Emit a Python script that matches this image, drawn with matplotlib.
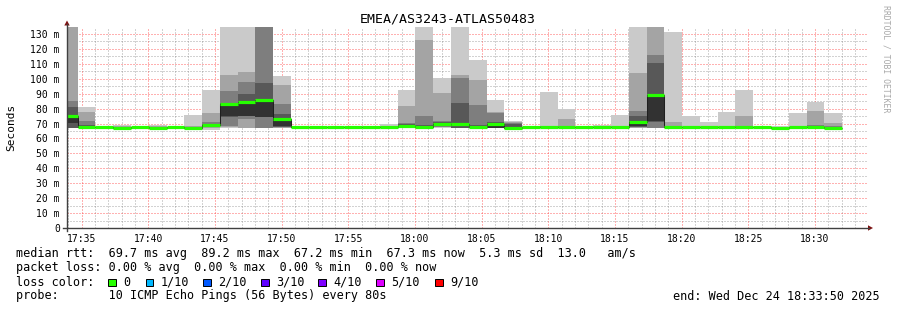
import matplotlib
matplotlib.use("Agg")
import matplotlib.pyplot as plt
import numpy as np
from matplotlib.patches import Rectangle, Polygon
from matplotlib.lines import Line2D

# ---------------- data ----------------
title = "EMEA/AS3243-ATLAS50483"
# time in minutes after 17:00
view_start = 33.9          # 17:33:54
view_end = 93.9            # 18:33:54
first_step = 34.7          # first 80 s step boundary (17:34:42)
step = 80 / 60.0
n_bars = 44
x_major = [35, 40, 45, 50, 55, 60, 65, 70, 75, 80, 85, 90]
x_labels = ["17:35", "17:40", "17:45", "17:50", "17:55", "18:00",
            "18:05", "18:10", "18:15", "18:20", "18:25", "18:30"]
y_major = [0, 10, 20, 30, 40, 50, 60, 70, 80, 90, 100, 110, 120, 130]
y_labels = ["0"] + [f"{v} m" for v in y_major[1:]]
y_max = 134.7

# sorted ping rtts (ms) for each 80 s step, lowest (ping01) to highest (ping10)
ping01 = [67.0, 67.0, 67.0, 66.9, 67.0, 66.9, 67.0, 66.9, 66.0, 66.8, 66.8, 66.8, 67.0, 67.0, 66.9,
          66.9, 66.9, 66.9, 67.0, 67.3, 67.0, 67.3, 66.8, 67.0, 67.0, 67.0, 66.9, 67.0, 67.0, 66.9,
          66.9, 67.0, 67.0, 66.9, 67.0, 67.0, 67.0, 67.0, 67.0, 67.0, 66.9, 66.9, 66.9, 66.9]
ping02 = [67.0, 67.2, 67.1, 67.0, 67.1, 67.0, 67.1, 67.0, 67.3, 68.0, 67.0, 66.9, 67.3, 67.1, 67.0,
          67.0, 67.0, 67.0, 67.2, 67.6, 67.2, 67.6, 66.9, 67.2, 67.1, 67.0, 67.0, 67.2, 67.2, 67.0,
          67.0, 67.1, 67.3, 67.0, 67.1, 67.1, 67.1, 67.1, 67.1, 67.1, 67.0, 67.0, 67.0, 67.0]
ping03 = [67.0, 67.3, 67.2, 67.1, 67.2, 67.1, 67.2, 67.1, 67.8, 68.4, 73.0, 67.0, 67.6, 67.2, 67.1,
          67.1, 67.1, 67.1, 67.4, 68.0, 67.4, 68.0, 67.0, 67.4, 67.1, 67.1, 67.1, 67.4, 67.4, 67.1,
          67.1, 67.2, 67.6, 67.2, 67.2, 67.2, 67.2, 67.2, 67.2, 67.2, 67.1, 67.1, 67.1, 67.1]
ping04 = [67.0, 67.4, 67.3, 67.1, 67.3, 67.2, 67.3, 67.2, 68.3, 74.5, 75.0, 74.5, 68.0, 67.3, 67.2,
          67.2, 67.2, 67.2, 67.5, 68.3, 67.6, 68.5, 67.1, 67.6, 67.2, 67.1, 67.2, 67.5, 67.5, 67.2,
          67.2, 67.3, 68.0, 71.0, 67.3, 67.3, 67.3, 67.3, 67.3, 67.3, 67.2, 67.2, 67.2, 67.2]
ping05 = [70.2, 67.5, 67.4, 67.2, 67.4, 67.3, 67.4, 67.3, 68.6, 75.0, 75.3, 74.6, 68.3, 67.4, 67.3,
          67.3, 67.3, 67.3, 67.6, 68.4, 67.7, 69.0, 68.5, 67.7, 67.2, 67.2, 67.3, 67.6, 67.6, 67.3,
          67.3, 67.5, 68.3, 71.5, 67.4, 67.4, 67.4, 67.4, 67.4, 67.4, 67.3, 67.3, 67.3, 67.3]
ping06 = [74.9, 67.6, 67.5, 67.2, 67.5, 67.3, 67.5, 67.3, 68.9, 83.0, 84.3, 85.8, 73.0, 67.5, 67.4,
          67.4, 67.4, 67.4, 67.8, 68.6, 68.0, 69.6, 69.5, 67.9, 69.9, 67.3, 67.4, 67.9, 67.8, 67.4,
          67.4, 67.6, 71.0, 89.2, 67.5, 67.5, 67.5, 67.5, 67.5, 67.5, 67.3, 67.4, 67.4, 67.3]
ping07 = [81.3, 69.0, 67.6, 67.4, 67.6, 67.5, 67.6, 67.5, 70.0, 84.0, 89.8, 97.4, 76.5, 67.6, 67.5,
          67.5, 67.5, 67.5, 67.9, 69.4, 68.8, 71.0, 84.0, 69.0, 71.2, 69.5, 67.5, 68.0, 67.9, 67.5,
          67.5, 67.7, 75.3, 110.4, 67.7, 67.6, 67.6, 67.6, 67.7, 67.6, 67.5, 67.5, 67.6, 67.5]
ping08 = [85.0, 71.7, 67.7, 67.6, 67.7, 67.7, 67.7, 67.7, 71.3, 92.0, 97.6, 140.0, 83.1, 67.7, 67.6,
          67.6, 67.6, 67.6, 68.0, 70.2, 75.0, 72.0, 100.3, 82.4, 77.0, 70.3, 67.6, 68.1, 68.3, 67.6,
          67.6, 67.8, 78.5, 115.9, 68.4, 67.7, 67.7, 67.7, 68.6, 67.7, 67.7, 67.6, 69.0, 68.4]
ping09 = [140.0, 77.5, 67.8, 68.3, 67.8, 68.3, 67.8, 68.2, 77.4, 102.5, 104.8, 140.0, 95.8, 67.8, 67.7,
          67.7, 67.7, 67.7, 68.3, 81.8, 126.0, 90.2, 102.7, 99.4, 77.5, 71.3, 67.7, 68.3, 73.2, 67.7,
          67.8, 68.5, 103.6, 140.0, 71.2, 68.0, 67.9, 67.9, 75.3, 67.8, 68.0, 67.8, 78.4, 70.2]
ping10 = [140.0, 81.2, 68.0, 68.8, 68.0, 68.8, 68.0, 75.7, 92.5, 140.0, 140.0, 140.0, 101.9, 68.0, 67.8,
          67.8, 67.8, 67.8, 69.7, 92.5, 140.0, 100.3, 140.0, 112.6, 85.8, 71.8, 67.8, 91.3, 79.8, 67.8,
          68.7, 75.7, 140.0, 140.0, 131.2, 75.2, 71.2, 78.0, 92.5, 67.9, 68.5, 77.3, 84.6, 77.3]

loss_labels = ["0", "1/10", "2/10", "3/10", "4/10", "5/10", "9/10"]
loss_colors = ["#26ff00", "#00b8ff", "#0059ff", "#5e00ff", "#7e00ff", "#dd00ff", "#ff0000"]

stats_line = "median rtt:  69.7 ms avg  89.2 ms max  67.2 ms min  67.3 ms now  5.3 ms sd  13.0   am/s"
loss_line = "packet loss: 0.00 % avg  0.00 % max  0.00 % min  0.00 % now"
probe_line = "probe:       10 ICMP Echo Pings (56 Bytes) every 80s"
end_line = "end: Wed Dec 24 18:33:50 2025"

# ---------------- figure ----------------
W, H = 897, 310
fig = plt.figure(figsize=(W / 100, H / 100), dpi=100)
fig.patch.set_facecolor("white")
MONO = "DejaVu Sans Mono"


def fx(px):
    return px / W


def fy(py):
    return 1 - py / H


ax = fig.add_axes([fx(67), fy(228), 800 / W, 201 / H])
ax.set_xlim(view_start, view_end)
ax.set_ylim(0, y_max)
for s in ax.spines.values():
    s.set_visible(False)

bounds = first_step + step * np.arange(n_bars)
lefts = np.concatenate([[view_start], bounds[:-1]])
rights = bounds
widths = rights - lefts

pings = np.array([ping01, ping02, ping03, ping04, ping05,
                  ping06, ping07, ping08, ping09, ping10])
median = pings[5]

# grid (dotted, 1 on / 1 off), painted before the graph like rrdtool does
minor_x = [m for m in range(34, 94) if m % 5 != 0]
minor_y = list(range(5, 135, 10))
grid_minor = (0.45, 0.45, 0.45, 0.32)
grid_major = (1.0, 0.2, 0.2, 0.38)
gkw = dict(lw=1.0, ls=(0, (1, 1)), zorder=0.5, antialiased=False)
for m in minor_x:
    ax.axvline(m, color=grid_minor, **gkw)
for v in minor_y:
    ax.axhline(v, color=grid_minor, **gkw)
for m in x_major:
    ax.axvline(m, color=grid_major, **gkw)
for v in y_major[1:]:
    ax.axhline(v, color=grid_major, **gkw)

# smoke
half = 5
for i in range(half):
    c = int(190 / half * (half - (i + 1))) + 50
    col = "#%02x%02x%02x" % (c, c, c)
    lo = pings[i]
    hi = pings[9 - i]
    ax.bar(lefts, hi - lo, width=widths, bottom=lo, align="edge",
           color=col, linewidth=0, antialiased=False, zorder=1)

# median line
edges_all = np.concatenate([[view_start], bounds])
ax.stairs(median, edges_all, baseline=None, color="#202020", lw=0.75, zorder=3)
ax.hlines(median, lefts, rights, colors=loss_colors[0], lw=2.3, zorder=4)

ax.set_xticks(x_major)
ax.set_xticklabels(x_labels, fontfamily=MONO, fontsize=7)
ax.set_yticks(y_major)
ax.set_yticklabels(y_labels, fontfamily=MONO, fontsize=7)
ax.tick_params(axis="both", length=0, colors="#000000")
ax.tick_params(axis="y", pad=5.2)
ax.tick_params(axis="x", pad=4.5)

# axes lines + arrows
axis_col = "#404040"
arrow_col = "#7f1010"
fig.add_artist(Line2D([fx(67), fx(67)], [fy(231), fy(24)], color=axis_col, lw=1.0))
fig.add_artist(Line2D([fx(63), fx(869)], [fy(228), fy(228)], color=axis_col, lw=1.0))
fig.add_artist(Polygon([[fx(64.3), fy(25.5)], [fx(69.7), fy(25.5)], [fx(67), fy(20.5)]],
                       closed=True, color=arrow_col, lw=0))
fig.add_artist(Polygon([[fx(868), fy(225.3)], [fx(868), fy(230.7)], [fx(873), fy(228)]],
                       closed=True, color=arrow_col, lw=0))

# texts
fig.text(fx(448), fy(19), title, ha="center", va="center", fontfamily=MONO, fontsize=9.5)
fig.text(fx(11), fy(127), "Seconds", ha="center", va="center", rotation=90,
         fontfamily=MONO, fontsize=8)
fig.text(fx(886), fy(59), "RRDTOOL / TOBI OETIKER", ha="center", va="center", rotation=-90,
         fontfamily=MONO, fontsize=5.9, color="#a8a8a8")

fs = 8.5
fig.text(fx(16), fy(257.5), stats_line, ha="left", va="baseline", fontfamily=MONO, fontsize=fs)
fig.text(fx(16), fy(271.5), loss_line, ha="left", va="baseline", fontfamily=MONO, fontsize=fs)
fig.text(fx(16), fy(285.5), "loss color:", ha="left", va="baseline", fontfamily=MONO, fontsize=fs)
fig.text(fx(16), fy(299.5), probe_line, ha="left", va="baseline", fontfamily=MONO, fontsize=fs)
fig.text(fx(880), fy(299.5), end_line, ha="right", va="baseline", fontfamily=MONO, fontsize=fs)

box_x = [108, 145.7, 203.3, 261, 318.3, 376, 435]
for bx, lab, col in zip(box_x, loss_labels, loss_colors):
    fig.add_artist(Rectangle((fx(bx), fy(286)), 7.5 / W, 7.5 / H, facecolor=col,
                             edgecolor="black", lw=0.7))
    fig.text(fx(bx + 15), fy(285.5), lab, ha="left", va="baseline", fontfamily=MONO, fontsize=fs)

fig.savefig("out.png", dpi=100, facecolor="white")
